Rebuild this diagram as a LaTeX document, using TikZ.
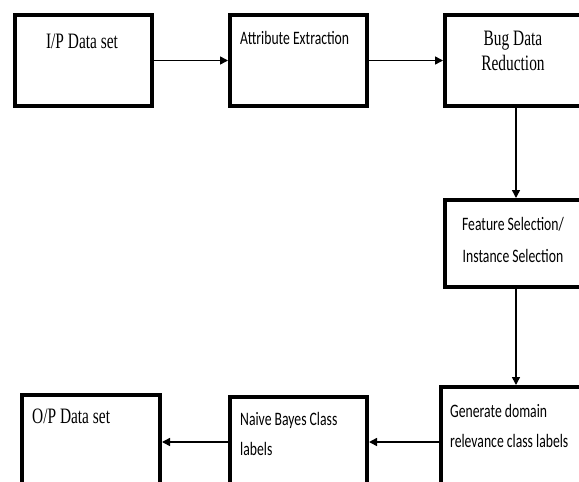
\documentclass[tikz,border=0pt]{standalone}
\usepackage{fontspec}
\setmainfont{Liberation Serif}
\newfontfamily\calfont{Carlito}
\usetikzlibrary{arrows.meta}
\newcommand{\serifsq}[2][c]{\scalebox{0.7}[1]{\fontsize{22}{25}\selectfont\begin{tabular}[t]{@{}#1@{}}#2\end{tabular}}}
\newcommand{\calsq}[3][l]{\scalebox{0.72}[1]{\calfont\fontsize{19}{#2}\selectfont\begin{tabular}[t]{@{}#1@{}}#3\end{tabular}}}
\begin{document}
\begin{tikzpicture}[x=1pt,y=-1pt,
  box/.style={draw, line width=4pt, rectangle, inner sep=0pt, anchor=north west},
  lbl/.style={inner sep=0pt},
  arr/.style={line width=1.5pt, -{Triangle[length=8pt,width=8pt]}}]
\useasboundingbox (0,0) rectangle (579,482);
\clip (0,0) rectangle (579,482);
\node[box, minimum width=137pt, minimum height=91pt] (b1) at (13,13) {};
\node[box, minimum width=137pt, minimum height=91pt] (b2) at (228,13) {};
\node[box, minimum width=200pt, minimum height=91pt] (b3) at (443,13) {};
\node[box, minimum width=200pt, minimum height=87pt] (b4) at (443,198) {};
\node[box, minimum width=200pt, minimum height=200pt] (b5) at (439,385) {};
\node[box, minimum width=137pt, minimum height=200pt] (b6) at (228,395) {};
\node[box, minimum width=138pt, minimum height=200pt] (b7) at (20,393) {};
\coordinate (xa) at (516,0);
\coordinate (ya) at (0,442);
\draw[arr] (b1.east) -- (b2.west);
\draw[arr] (b2.east) -- (b3.west);
\draw[arr] (b3.south -| xa) -- (b4.north -| xa);
\draw[arr] (b4.south -| xa) -- (b5.north -| xa);
\draw[arr] (b5.west |- ya) -- (b6.east |- ya);
\draw[arr] (b6.west |- ya) -- (b7.east |- ya);
\node[lbl, anchor=base] (t1) at (82,48) {\serifsq{I/P Data set}};
\node[lbl, anchor=base west] (t2) at (240,44) {\calsq{30}{Attribute Extraction}};
\node[lbl, anchor=base] (t3) at (513,45) {\serifsq{Bug Data\\Reduction}};
\node[lbl, anchor=base] (t4) at (513,230) {\calsq[c]{32}{Feature Selection/\\Instance Selection}};
\node[lbl, anchor=base west] (t5) at (450,417) {\calsq{30}{Generate domain\\relevance class labels}};
\node[lbl, anchor=base west] (t6) at (240,425) {\calsq{30}{Naive Bayes Class\\labels}};
\node[lbl, anchor=base west] (t7) at (32,423) {\serifsq[l]{O/P Data set}};
\end{tikzpicture}
\end{document}
